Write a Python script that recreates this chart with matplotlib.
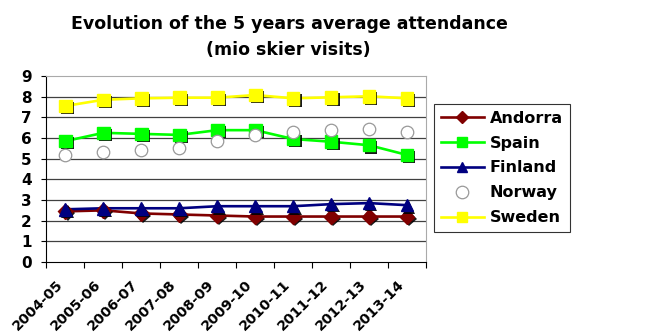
import matplotlib
matplotlib.use("Agg")
import matplotlib.pyplot as plt
import matplotlib.patheffects as pe
import matplotlib.transforms as mtransforms
import numpy as np

seasons = ["2004-05", "2005-06", "2006-07", "2007-08", "2008-09",
           "2009-10", "2010-11", "2011-12", "2012-13", "2013-14"]

andorra = [2.45, 2.5, 2.35, 2.3, 2.25, 2.2, 2.2, 2.2, 2.2, 2.2]
spain = [5.85, 6.25, 6.2, 6.15, 6.38, 6.38, 5.95, 5.82, 5.65, 5.18]
finland = [2.55, 2.6, 2.6, 2.6, 2.7, 2.7, 2.7, 2.8, 2.85, 2.75]
norway = [5.18, 5.31, 5.42, 5.53, 5.85, 6.15, 6.27, 6.37, 6.42, 6.31]
sweden = [7.55, 7.85, 7.92, 7.95, 7.95, 8.08, 7.92, 7.97, 8.02, 7.92]

series = [
    ("Andorra", andorra, "#800000", "D", 7.5),
    ("Spain", spain, "#00FF00", "s", 9),
    ("Finland", finland, "#000080", "^", 9),
    ("Norway", norway, None, "o", 9),
    ("Sweden", sweden, "#FFFF00", "s", 9),
]

fig = plt.figure(figsize=(6.5, 3.36), dpi=100)
ax = fig.add_axes([0.0715, 0.2202, 0.584, 0.5536])

x = np.arange(len(seasons))
shadow = [pe.SimplePatchShadow(offset=(1.5, -1.5), shadow_rgbFace="black",
                               alpha=0.9),
          pe.Normal()]

handles = []
for name, vals, color, marker, ms in series:
    if color is None:
        # Norway: open circles only, no line
        h, = ax.plot(x, vals, linestyle="none", marker=marker, markersize=ms,
                     markerfacecolor="white", markeredgecolor="#999999",
                     markeredgewidth=0.9, label=name, zorder=4)
    else:
        ax.plot(x, vals, color=color, linewidth=1.9, zorder=3)
        ax.plot(x, vals, linestyle="none", marker=marker, markersize=ms,
                markerfacecolor=color, markeredgecolor=color,
                path_effects=shadow, zorder=4)
        h, = ax.plot([], [], color=color, linewidth=1.9, marker=marker,
                     markersize=ms * 0.85, markerfacecolor=color,
                     markeredgecolor=color, label=name)
    handles.append(h)

ax.set_xlim(-0.5, len(seasons) - 0.5)
ax.set_ylim(0, 9)
ax.set_yticks(range(0, 10))
ax.set_yticklabels([str(v) for v in range(0, 10)], fontsize=11,
                   fontweight="bold")

# category boundaries carry the tick marks, centres carry the labels
ax.set_xticks(np.arange(-0.5, len(seasons), 1.0))
ax.set_xticklabels([])
ax.set_xticks(x, minor=True)
ax.set_xticklabels(seasons, minor=True, rotation=45, ha="right",
                   rotation_mode="anchor", fontsize=10.2, fontweight="bold")
ax.tick_params(axis="x", which="minor", length=0, pad=4)
ax.tick_params(axis="x", which="major", length=4, direction="out")
ax.tick_params(axis="y", length=3.6, direction="out", pad=7)

shift = mtransforms.ScaledTranslation(-10 / 100, -10 / 100, fig.dpi_scale_trans)
for lbl in ax.get_xticklabels(minor=True):
    lbl.set_transform(lbl.get_transform() + shift)

for v in range(1, 9):
    ax.axhline(v, color="#404040", linewidth=0.9, zorder=1)

ax.spines["top"].set_color("#aaaaaa")
ax.spines["right"].set_color("#aaaaaa")
ax.spines["left"].set_color("black")
ax.spines["bottom"].set_color("black")

fig.text(0.446, 0.928, "Evolution of the 5 years average attendance",
         ha="center", va="center", fontsize=12.5, fontweight="bold")
fig.text(0.444, 0.852, "(mio skier visits)",
         ha="center", va="center", fontsize=12.5, fontweight="bold")

leg = fig.legend(handles=handles, loc="center",
                 bbox_to_anchor=(0.772, 0.5), frameon=True, fancybox=False,
                 handlelength=2.7, labelspacing=0.62, borderpad=0.45,
                 handletextpad=0.35, prop={"weight": "bold", "size": 11.5})
leg.get_frame().set_edgecolor("black")
leg.get_frame().set_linewidth(0.8)

fig.savefig("out.png", dpi=100)
